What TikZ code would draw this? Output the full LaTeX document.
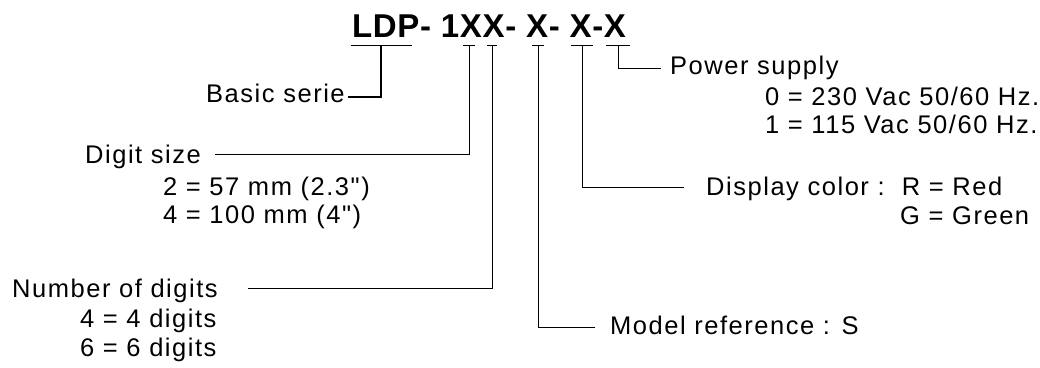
\documentclass[tikz,border=0pt]{standalone}
\usepackage{fontspec}
\setmainfont{Liberation Sans}
\newfontfamily\lblfont[LetterSpace=6]{Liberation Sans}
\newfontfamily\codefont[LetterSpace=2]{Liberation Sans}
\usetikzlibrary{positioning}
\tikzset{
  lbl/.style={inner sep=0pt, anchor=base west, font=\lblfont\fontsize{25.5}{30}\selectfont},
  code/.style={inner sep=0pt, anchor=base west, font=\codefont\fontsize{33}{36}\selectfont\bfseries},
  lead/.style={line width=1pt},
  uline/.style={line width=1pt},
}

\begin{document}
\begin{tikzpicture}[x=1pt,y=-1pt]
  \useasboundingbox (0,0) rectangle (1040,367);
  \node[code] (code) at (352,37) {LDP- 1XX- X- X-X};
  % taps under the code letters
  \coordinate (tap-ldp) at (381,45);
  \coordinate (tap-x1) at (469,45);
  \coordinate (tap-x2) at (492,45);
  \coordinate (tap-x3) at (538,45);
  \coordinate (tap-x4) at (582,45);
  \coordinate (tap-x5) at (618,45);
  \foreach \t/\w in {ldp/30.5, x1/6, x2/5, x3/6, x4/11, x5/12}
    \draw[uline] ([xshift=-\w pt]tap-\t) -- ([xshift=\w pt]tap-\t);
  % free ends of the leaders
  \coordinate (basic-end) at (348,97);
  \coordinate (digit-end) at (215,154);
  \coordinate (num-end) at (248,288);
  \coordinate (model-end) at (595,327);
  \coordinate (disp-end) at (684,187);
  \coordinate (power-end) at (661,68);

  \node[lbl] (basic) at (206,102) {Basic serie};
  \node[lbl] (digit) at (85,163) {Digit size};
  \node[lbl] (digit2) at (163,195) {2 = 57 mm (2.3")};
  \node[lbl] (digit4) at (163,223) {4 = 100 mm (4")};
  \node[lbl] (num) at (12,297) {Number of digits};
  \node[lbl] (num4) at (80,327) {4 = 4 digits};
  \node[lbl] (num6) at (80,356) {6 = 6 digits};
  \node[lbl] (model) at (610,334) {Model reference : S};
  \node[lbl] (disp) at (706,195) {Display color :\ \ R = Red};
  \node[lbl] (green) at (900,224) {G = Green};
  \node[lbl] (power) at (670,74) {Power supply};
  \node[lbl] (power0) at (765,105) {0 = 230 Vac 50/60 Hz.};
  \node[lbl] (power1) at (765,133) {1 = 115 Vac 50/60 Hz.};

  \draw[lead, line width=1.8pt] (tap-ldp) |- (basic-end);
  \draw[lead] (tap-x1) |- (digit-end);
  \draw[lead] (tap-x2) |- (num-end);
  \draw[lead] (tap-x3) |- (model-end);
  \draw[lead] (tap-x4) |- (disp-end);
  \draw[lead] (tap-x5) |- (power-end);
\end{tikzpicture}
\end{document}
